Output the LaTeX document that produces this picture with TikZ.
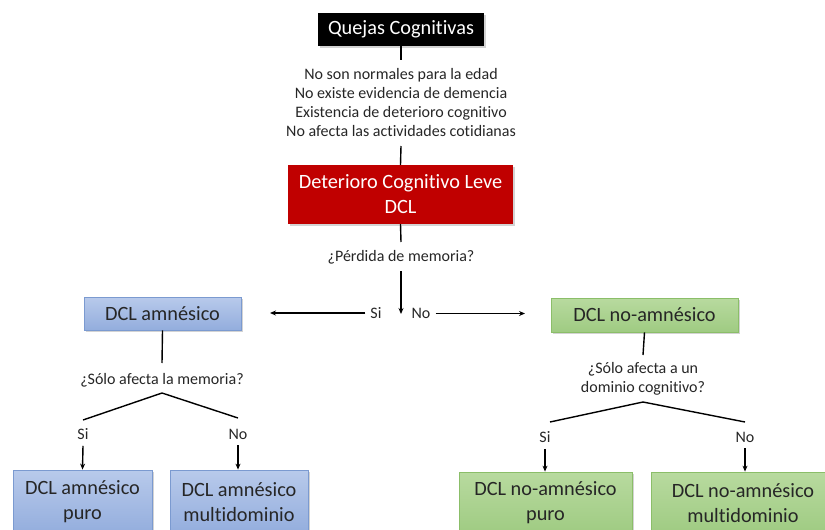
\documentclass[tikz,border=0pt]{standalone}
\usepackage{fontspec}
\setmainfont{Carlito}[Ligatures=NoCommon]
\usetikzlibrary{arrows.meta,shadows}
\definecolor{redbox}{HTML}{C00000}
\definecolor{bluetop}{HTML}{B8CAEB}
\definecolor{bluebot}{HTML}{93ADDD}
\definecolor{blueedge}{HTML}{7B9AD0}
\definecolor{greentop}{HTML}{B8DA9F}
\definecolor{greenbot}{HTML}{9FCB82}
\definecolor{greenedge}{HTML}{8BBE69}
\definecolor{txt}{HTML}{262626}
\tikzset{
  box/.style={rectangle, inner sep=0pt, align=center, font=\fontsize{20.3}{25}\selectfont,
     drop shadow={shadow xshift=1.5pt, shadow yshift=-1.5pt, opacity=0.35}},
  blackbox/.style={box, fill=black, text=white},
  redstyle/.style={box, fill=redbox, text=white},
  bluebox/.style={box, draw=blueedge, line width=0.8pt, top color=bluetop, bottom color=bluebot, text=txt},
  greenbox/.style={box, draw=greenedge, line width=0.8pt, top color=greentop, bottom color=greenbot, text=txt},
  lbl/.style={inner sep=1pt, align=center, font=\fontsize{16}{19.3}\selectfont, text=txt},
  conn/.style={line width=1.4pt, black},
  arr/.style={conn, -{Stealth[length=6pt,width=5pt]}}
}
\begin{document}
\begin{tikzpicture}[x=1pt,y=-1pt]
\useasboundingbox (0,0) rectangle (825,530);
% boxes
\node[blackbox, minimum width=166pt, minimum height=33pt] (quejas) at (401,29.5) {Quejas Cognitivas};
\node[redstyle, minimum width=225pt, minimum height=59pt] (dcl) at (400.5,194.5) {Deterioro Cognitivo Leve\\DCL};
\node[bluebox, minimum width=157pt, minimum height=33pt] (amn) at (162.5,313.5) {DCL amnésico};
\node[greenbox, minimum width=187pt, minimum height=34pt] (noamn) at (644.5,315) {DCL no-amnésico};
\node[bluebox, minimum width=139pt, minimum height=64pt] (amnpuro) at (82.5,502) {DCL amnésico\\puro};
\node[bluebox, minimum width=138pt, minimum height=64pt] (amnmulti) at (239,502) {DCL amnésico\\multidominio};
\node[greenbox, minimum width=173pt, minimum height=62pt] (noamnpuro) at (545.5,503) {DCL no-amnésico\\puro};
\node[greenbox, minimum width=184pt, minimum height=62pt] (noamnmulti) at (743,503) {DCL no-amnésico\\multidominio};
% labels
\node[lbl] (crit) at (401,102.5) {No son normales para la edad\\No existe evidencia de demencia\\Existencia de deterioro cognitivo\\No afecta las actividades cotidianas};
\node[lbl] (q1) at (401,257) {¿Pérdida de memoria?};
\node[lbl] (si1) at (376,313) {Si};
\node[lbl] (no1) at (421,313) {No};
\node[lbl] (q2) at (162,380) {¿Sólo afecta la memoria?};
\node[lbl] (si2) at (83,434) {Si};
\node[lbl] (no2) at (238,434) {No};
\node[lbl] (q3) at (643,379) {¿Sólo afecta a un\\dominio cognitivo?};
\node[lbl] (si3) at (545,437) {Si};
\node[lbl] (no3) at (745,437) {No};
% coordinates
\coordinate (split) at (401,314);
\coordinate (lend) at (270,313);
\coordinate (rend) at (525,313.5);
\coordinate (fork2) at (162,393);
\coordinate (fork3) at (643,402);
% connectors
\draw[conn] (quejas.south) -- (401,60);
\draw[conn] (401,146) -- (dcl.north);
\draw[conn] (dcl.south) -- (401,242);
\draw[arr] (401,271) -- (split);
\draw[arr] (si1.west) ++(-4,0) -- (lend);
\draw[arr] (no1.east) ++(4,0.5) -- (rend);
\draw[conn] (amn.south) -- (162,363);
\draw[conn] (fork2) -- (83,420);
\draw[conn] (fork2) -- (238,418);
\draw[arr] (si2.south) ++(0,5) -- (amnpuro.north);
\draw[arr] (no2.south) ++(0,5) -- (amnmulti.north -| no2.south);
\draw[conn] (noamn.south) -- (643,355);
\draw[conn] (fork3) -- (550,422);
\draw[conn] (fork3) -- (745,422);
\draw[arr] (si3.south) ++(0,5) -- (noamnpuro.north -| si3.south);
\draw[arr] (no3.south) ++(0,5) -- (noamnmulti.north -| no3.south);
\end{tikzpicture}
\end{document}
